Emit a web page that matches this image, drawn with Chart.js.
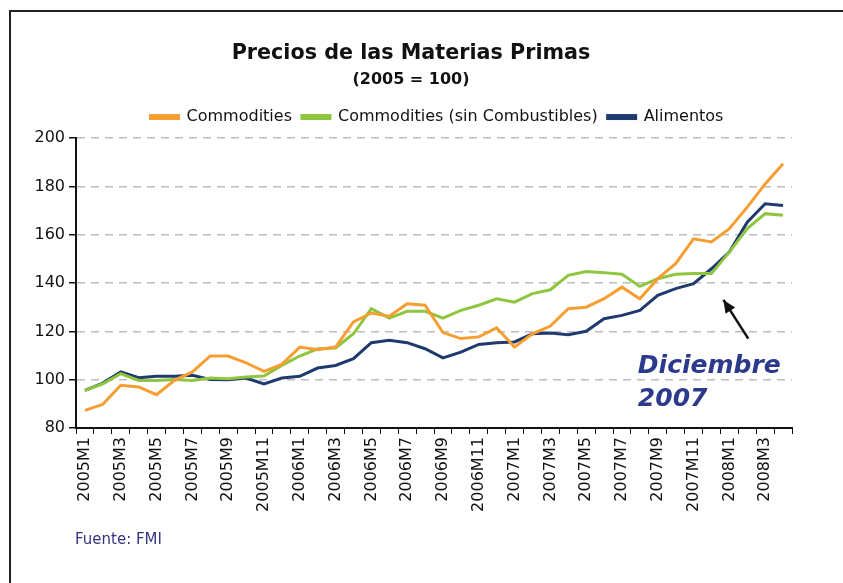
<!DOCTYPE html>
<html>
<head>
<meta charset="utf-8">
<script src="https://cdn.jsdelivr.net/npm/chart.js@4"></script>
<style>
  html, body { margin: 0; padding: 0; background: #fff; }
  #wrap { position: relative; width: 843px; height: 583px; }
  #frame { position: absolute; left: 9px; top: 10px; width: 900px; height: 600px;
           border-left: 2px solid #222; border-top: 2px solid #222; }
  #fuente { position: absolute; left: 75px; top: 530px; font: 15px "DejaVu Sans", sans-serif;
            color: #35357f; }
</style>
</head>
<body>
<div id="wrap">
  <div id="frame"></div>
  <canvas id="chart" width="843" height="583"></canvas>
  <div id="fuente">Fuente: FMI</div>
</div>
<script>
// meses 2005M1 .. 2008M4
const meses = [];
for (let a = 2005; a <= 2008; a++) {
    for (let m = 1; m <= 12; m++) {
        if (a === 2008 && m > 4) break;
        meses.push(a + 'M' + m);
    }
}

const commodities = [
    87.3, 89.8, 97.7, 97.0, 93.8, 99.7, 103.2, 109.8, 109.8, 107.0,
    103.4, 106.3, 113.5, 112.4, 113.5, 123.9, 127.6, 126.3, 131.4, 130.8,
    119.5, 117.0, 117.7, 121.4, 113.5, 119.0, 122.2, 129.4, 130.0, 133.5,
    138.3, 133.5, 141.8, 148.0, 158.3, 157.0, 162.5, 171.4, 181.0, 189.4
];
const sinCombustibles = [
    95.6, 98.3, 102.5, 99.7, 99.7, 100.1, 99.7, 100.7, 100.4, 101.1,
    101.5, 105.9, 109.8, 112.8, 113.1, 119.0, 129.4, 125.5, 128.3, 128.3,
    125.5, 128.7, 130.8, 133.5, 132.1, 135.6, 137.2, 143.2, 144.8, 144.3,
    143.6, 138.6, 141.8, 143.6, 143.9, 143.9, 152.8, 162.5, 168.7, 168.0
];
const alimentos = [
    95.6, 98.6, 103.2, 100.8, 101.4, 101.4, 101.8, 100.1, 100.0, 100.7,
    98.2, 100.7, 101.4, 104.8, 105.9, 108.7, 115.3, 116.3, 115.3, 112.8,
    109.0, 111.4, 114.6, 115.3, 115.6, 119.0, 119.3, 118.6, 120.0, 125.2,
    126.6, 128.7, 134.9, 137.7, 139.7, 145.9, 152.8, 165.2, 172.8, 172.1
];
const yTicks = [80, 100, 120, 140, 160, 180, 200];

const fuente = '"DejaVu Sans", sans-serif';

// leyenda un poco mas abajo y corrida a la derecha
const leyendaPlugin = {
    id: 'leyendaAjuste',
    afterInit(chart) {
        const lg = chart.legend;
        const fit = lg.fit;
        lg.fit = function() {
            fit.call(this);
            this.height += 3;
        };
    },
    afterLayout(chart) {
        chart.legend.left += 26;
        chart.legend.right += 26;
    }
};

// flecha y texto "Diciembre 2007"
const notaPlugin = {
    id: 'nota',
    afterDraw(chart) {
        const ctx = chart.ctx;
        const x = chart.scales.x, y = chart.scales.y;
        const tipX = x.getPixelForValue(35) + 12;
        const tipY = y.getPixelForValue(133);
        const baseX = x.getPixelForValue(37) + 1;
        const baseY = y.getPixelForValue(117);
        ctx.save();
        ctx.strokeStyle = '#111';
        ctx.fillStyle = '#111';
        ctx.lineWidth = 2.5;
        ctx.beginPath();
        ctx.moveTo(baseX, baseY);
        ctx.lineTo(tipX, tipY);
        ctx.stroke();
        const ang = Math.atan2(tipY - baseY, tipX - baseX);
        ctx.beginPath();
        ctx.moveTo(tipX, tipY);
        ctx.lineTo(tipX - 14 * Math.cos(ang - 0.42), tipY - 14 * Math.sin(ang - 0.42));
        ctx.lineTo(tipX - 14 * Math.cos(ang + 0.42), tipY - 14 * Math.sin(ang + 0.42));
        ctx.closePath();
        ctx.fill();
        ctx.fillStyle = '#2b3a8c';
        ctx.font = 'italic bold 25px ' + fuente;
        ctx.textBaseline = 'alphabetic';
        const tx = x.getPixelForValue(31) - 2;
        ctx.fillText('Diciembre', tx, y.getPixelForValue(102.8));
        ctx.fillText('2007', tx, y.getPixelForValue(89.1));
        ctx.restore();
    }
};

new Chart(document.getElementById('chart'), {
    type: 'line',
    data: {
        labels: meses,
        datasets: [
            { label: 'Commodities', data: commodities, borderColor: '#f79e32', backgroundColor: '#f79e32' },
            { label: 'Commodities (sin Combustibles)', data: sinCombustibles, borderColor: '#8fc640', backgroundColor: '#8fc640' },
            { label: 'Alimentos', data: alimentos, borderColor: '#1f3a6e', backgroundColor: '#1f3a6e' }
        ].map(d => Object.assign(d, { borderWidth: 3, pointRadius: 0, tension: 0, fill: false }))
    },
    options: {
        responsive: false,
        animation: false,
        layout: { padding: { left: 30, right: 51, top: 41, bottom: 10 } },
        plugins: {
            title: {
                display: true,
                text: 'Precios de las Materias Primas',
                color: '#111',
                font: { family: fuente, size: 20.7, weight: 'bold' },
                padding: { top: 0, bottom: 4 }
            },
            subtitle: {
                display: true,
                text: '(2005 = 100)',
                color: '#111',
                font: { family: fuente, size: 16, weight: 'bold' },
                padding: { top: 0, bottom: 10 }
            },
            legend: {
                labels: {
                    color: '#111',
                    font: { family: fuente, size: 16 },
                    boxWidth: 28,
                    boxHeight: 3,
                    padding: 10
                }
            },
            tooltip: { enabled: false }
        },
        scales: {
            x: {
                offset: true,
                grid: { display: true, drawOnChartArea: false, offset: true, color: '#111', tickLength: 6 },
                border: { color: '#111', width: 2 },
                ticks: {
                    autoSkip: false,
                    maxRotation: 90,
                    minRotation: 90,
                    color: '#111',
                    font: { family: fuente, size: 16 },
                    padding: 3,
                    callback: (v, i) => (i % 2 === 0 ? meses[i] : '')
                },
                afterFit: s => { s.height = 145; }
            },
            y: {
                min: 80,
                max: 200,
                afterBuildTicks: s => { s.ticks = yTicks.map(v => ({ value: v })); },
                grid: { color: '#bdbdbd', lineWidth: 1.5, tickColor: '#111', tickLength: 7 },
                border: { color: '#111', width: 2, dash: [8, 6] },
                ticks: { color: '#111', font: { family: fuente, size: 16 }, padding: 4 },
                afterFit: s => { s.width = 46; }
            }
        }
    },
    plugins: [leyendaPlugin, notaPlugin]
});
</script>
</body>
</html>
